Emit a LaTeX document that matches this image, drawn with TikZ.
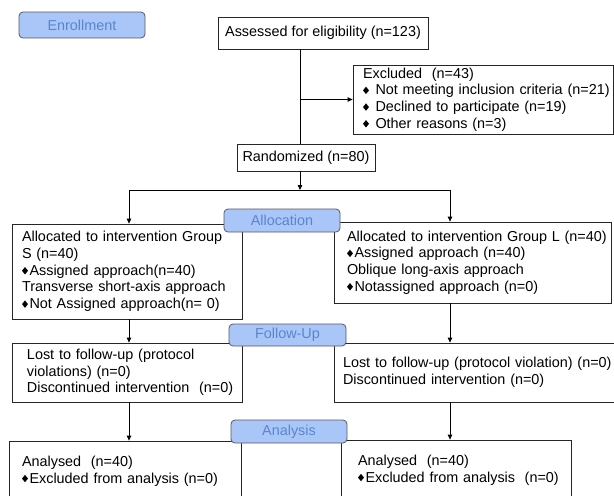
\documentclass[tikz,border=0pt]{standalone}
\usepackage{fontspec}
\setmainfont{Liberation Sans}
\usepackage{tikz}
\usetikzlibrary{arrows.meta}
\definecolor{stagefill}{RGB}{170,198,248}
\definecolor{stagetext}{RGB}{88,134,206}
\definecolor{stageline}{RGB}{85,88,100}
% small black diamond used as bullet
\newcommand{\dmd}{\tikz[baseline]{\fill (0pt,0.8pt) -- (3pt,4.5pt) -- (0pt,8.2pt) -- (-3pt,4.5pt) -- cycle;}\hspace{1.5pt}}

\begin{document}
\begin{tikzpicture}[x=1pt, y=-1pt,
	txt/.style={font=\fontsize{14.4}{16.7}\selectfont},
	box/.style={txt, draw=black!85, line width=0.8pt, align=left, inner ysep=0pt},
	stage/.style={txt, draw=stageline, fill=stagefill, text=stagetext, rounded corners=4pt, line width=0.8pt, inner sep=0pt},
	arr/.style={-{Triangle[length=5pt,width=4.5pt]}, line width=0.8pt}]
	    \clip (0,0) rectangle (614,496);
	    
	    % enrollment
	    \node[box, align=center, inner xsep=0pt, minimum width=210pt, minimum height=32pt] (assess) at (323,33) {Assessed for eligibility (n=123)};
	    \node[box, inner xsep=10pt, text width=240pt, minimum height=69pt] (excl) at (483,99.5)
	    {Excluded~~(n=43)\\
	    \mbox{\dmd\hspace{5pt}Not meeting inclusion criteria (n=21)}\\
	    \dmd\hspace{5pt}Declined to participate (n=19)\\
	    \dmd\hspace{5pt}Other reasons (n=3)};
	    \node[box, align=center, inner xsep=0pt, minimum width=138pt, minimum height=27pt] (rand) at (306,157.5) {Randomized (n=80)};
	    
	    % allocation
	    \node[box, inner xsep=10pt, text width=210pt, minimum height=95pt] (grpS) at (127,271.5)
	    {Allocated to intervention Group\\
	    S (n=40)\\
	    \dmd Assigned approach(n=40)\\
	    Transverse short-axis approach\\
	    \dmd Not Assigned approach(n= 0)};
	    \node[box, inner xsep=13pt, text width=251pt, minimum height=81pt] (grpL) at (472.5,262.5)
	    {\mbox{Allocated to intervention Group L (n=40)}\\
	    \dmd Assigned approach (n=40)\\
	    Oblique long-axis approach\\
	    \dmd Notassigned approach (n=0)};
	    
	    % follow-up
	    \node[box, inner xsep=15pt, text width=200pt, minimum height=59pt] (fuS) at (127,372.5)
	    {Lost to follow-up (protocol\\
	    violations) (n=0)\\
	    \mbox{Discontinued intervention~~(n=0)}};
	    \node[box, inner xsep=9pt, text width=264pt, minimum height=59pt] (fuL) at (475,372.5)
	    {\mbox{Lost to follow-up (protocol violation) (n=0)}\\
	    Discontinued intervention (n=0)};
	    
	    % analysis
	    \node[box, inner xsep=13pt, text width=206pt, minimum height=60pt] (anS) at (125,471)
	    {Analysed~~(n=40)\\
	    \dmd Excluded from analysis (n=0)};
	    \node[box, inner xsep=17pt, text width=196pt, minimum height=60pt] (anL) at (456,470)
	    {Analysed~~(n=40)\\
	    \mbox{\dmd Excluded from analysis~~(n=0)}};
	    
	    % connectors
	    \coordinate (mid) at (300,190);
	    \coordinate (lcol) at (129,190);
	    \coordinate (rcol) at (450,190);
	    \draw[line width=0.8pt] (assess.south -| mid) -- (rand.north -| mid);
	    \draw[arr] (excl.west -| mid) -- (excl.west);
	    \draw[arr] (rand.south -| mid) -- (mid);
	    \draw[line width=0.8pt] (lcol) -- (rcol);
	    \draw[arr] (lcol) -- (grpS.north -| lcol);
	    \draw[arr] (rcol) -- (grpL.north -| rcol);
	    \draw[arr] (grpS.south -| lcol) -- (fuS.north -| lcol);
	    \draw[arr] (grpL.south -| rcol) -- (fuL.north -| rcol);
	    \draw[arr] (fuS.south -| lcol) -- (anS.north -| lcol);
	    \draw[arr] (fuL.south -| rcol) -- (anL.north -| rcol);
	    
	    % stage labels on top
	    \node[stage, minimum width=126pt, minimum height=26pt] (enroll) at (82,25) {Enrollment};
	    \node[stage, minimum width=116pt, minimum height=23pt] (alloc) at (282,220.5) {Allocation};
	    \node[stage, minimum width=117pt, minimum height=22pt] (follow) at (287.5,335) {Follow-Up};
	    \node[stage, minimum width=116pt, minimum height=23pt] (analysis) at (289,431.5) {Analysis};
	  \end{tikzpicture}
\end{document}
